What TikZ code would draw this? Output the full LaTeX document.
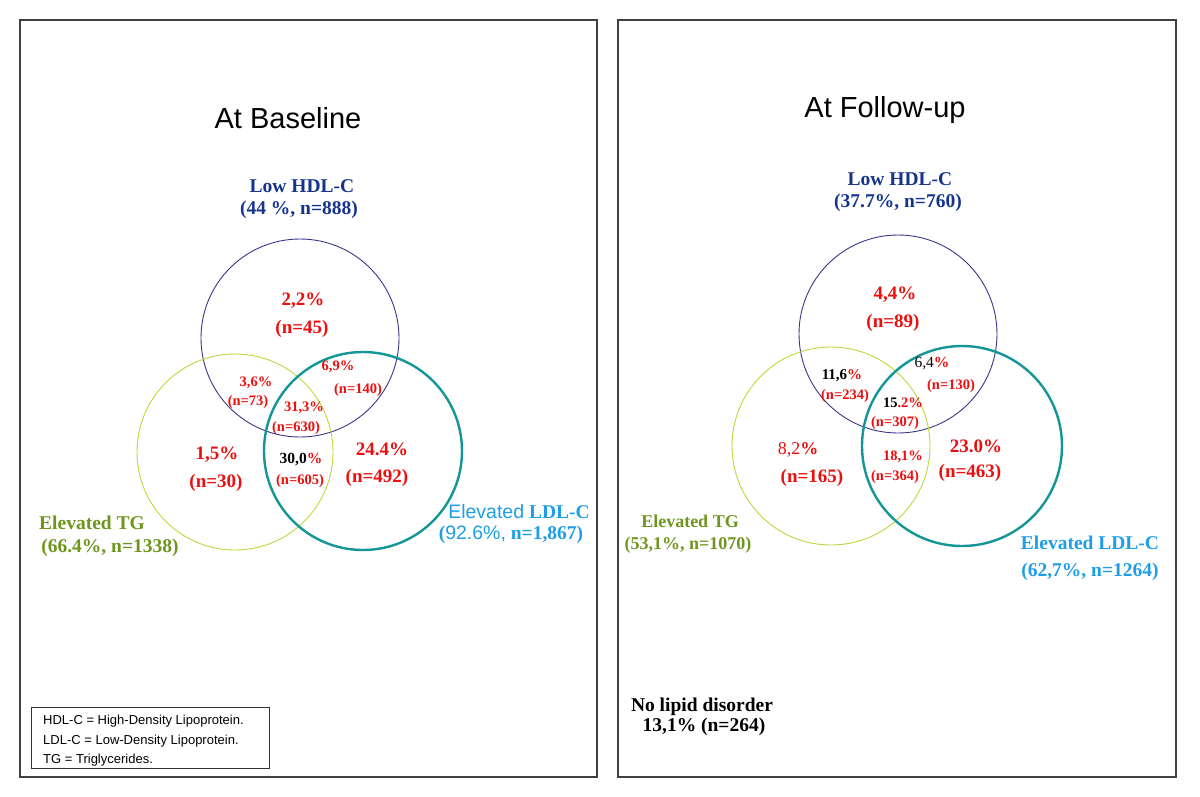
\documentclass[tikz,border=0pt]{standalone}
\usepackage{fontspec}
\setmainfont{Liberation Serif}
\setsansfont{Liberation Sans}
\definecolor{hdlblue}{RGB}{22,52,140}
\definecolor{hdlline}{RGB}{55,55,140}
\definecolor{tggreen}{RGB}{110,150,30}
\definecolor{tgline}{RGB}{190,215,60}
\definecolor{ldlblue}{RGB}{30,158,230}
\definecolor{ldlline}{RGB}{20,150,150}
\definecolor{pctred}{RGB}{235,15,15}

\begin{document}
\begin{tikzpicture}[x=1pt,y=-1pt,
  every node/.style={inner sep=0pt},
  panel/.style={draw=black!75,line width=1.6pt},
  heading/.style={font=\sffamily\fontsize{29}{32}\selectfont},
  setname/.style={font=\bfseries\fontsize{19.5}{22}\selectfont},
  bigpct/.style={font=\bfseries\fontsize{19}{22}\selectfont,text=pctred},
  smallpct/.style={font=\bfseries\fontsize{14.5}{16}\selectfont,text=pctred},
  legendtext/.style={font=\sffamily\fontsize{13}{15}\selectfont,anchor=west}]
\useasboundingbox (0,0) rectangle (1200,796);

% the two panels
\draw[panel] (20,20) rectangle (597,777);
\draw[panel] (618,20) rectangle (1176,777);

% --- at baseline ---
\node[heading] (basetitle) at (288,118) {At Baseline};
\draw[hdlline,line width=0.9pt] (300,338) circle[radius=99pt];
\draw[tgline,line width=0.9pt] (235,452) circle[radius=98pt];
\draw[ldlline,line width=2.4pt] (363,451) circle[radius=99pt];

\node[setname,text=hdlblue] (bhdl) at (302,186) {Low HDL-C};
\node[setname,text=hdlblue] (bhdln) at (299,210) {(44 \%, n=888)};
\node[setname,text=tggreen] (btg) at (92,523) {Elevated TG};
\node[setname,text=tggreen] (btgn) at (110,548) {(66.4\%, n=1338)};
\node[setname,text=ldlblue] (bldl) at (519,512) {{\sffamily\mdseries Elevated} LDL-C};
\node[setname,text=ldlblue] (bldln) at (511,535) {({\sffamily\mdseries 92.6\%,} n=1,867)};

\node[bigpct] (b1) at (303,301) {2,2\%};
\node[bigpct] (b1n) at (302,329) {(n=45)};
\node[smallpct] (b2) at (256,383) {3,6\%};
\node[smallpct] (b2n) at (248,402) {(n=73)};
\node[smallpct] (b3) at (338,367) {6,9\%};
\node[smallpct] (b3n) at (358,390) {(n=140)};
\node[smallpct] (b4) at (304,408) {31,3\%};
\node[smallpct] (b4n) at (296,428) {(n=630)};
\node[bigpct] (b5) at (217,455) {1,5\%};
\node[bigpct] (b5n) at (216,483) {(n=30)};
\node[smallpct,font=\bfseries\fontsize{15.5}{17}\selectfont] (b6) at (301,460) {\textcolor{black}{30,0}\%};
\node[smallpct] (b6n) at (300,481) {(n=605)};
\node[bigpct] (b7) at (382,449) {24.4\%};
\node[bigpct] (b7n) at (377,478) {(n=492)};

% legend
\draw[black!80,line width=1pt] (31,707) rectangle (269,768);
\node[legendtext] (leg1) at (43,721) {HDL-C = High-Density Lipoprotein.};
\node[legendtext] (leg2) at (43,741) {LDL-C = Low-Density Lipoprotein.};
\node[legendtext] (leg3) at (43,760) {TG = Triglycerides.};

% --- at follow-up ---
\node[heading] (fuptitle) at (885,110) {At Follow-up};
\draw[hdlline,line width=0.9pt] (898,334) circle[radius=99pt];
\draw[tgline,line width=0.9pt] (831,446) circle[radius=99pt];
\draw[ldlline,line width=2.4pt] (962,446) circle[radius=100pt];

\node[setname,text=hdlblue] (fhdl) at (900,179) {Low HDL-C};
\node[setname,text=hdlblue] (fhdln) at (898,203) {(37.7\%, n=760)};
\node[setname,text=tggreen,font=\bfseries\fontsize{18}{20}\selectfont] (ftg) at (690,521) {Elevated TG};
\node[setname,text=tggreen,font=\bfseries\fontsize{18}{20}\selectfont] (ftgn) at (688,545) {(53,1\%, n=1070)};
\node[setname,text=ldlblue] (fldl) at (1090,543) {Elevated LDL-C};
\node[setname,text=ldlblue] (fldln) at (1090,572) {(62,7\%, n=1264)};

\node[bigpct] (f1) at (895,295) {4,4\%};
\node[bigpct] (f1n) at (893,323) {(n=89)};
\node[smallpct,font=\bfseries\fontsize{15}{17}\selectfont] (f2) at (842,376) {\textcolor{black}{11,6}\%};
\node[smallpct] (f2n) at (845,396) {(n=234)};
\node[smallpct,font=\fontsize{15.5}{17}\selectfont] (f3) at (932,364) {\textcolor{black}{6,4}\textbf{\%}};
\node[smallpct] (f3n) at (951,386) {(n=130)};
\node[smallpct] (f4) at (903,403) {\textcolor{black}{15}.2\%};
\node[smallpct] (f4n) at (895,423) {(n=307)};
\node[bigpct,font=\fontsize{18}{20}\selectfont] (f5) at (798,450) {8,2\textbf{\%}};
\node[bigpct] (f5n) at (812,478) {(n=165)};
\node[smallpct] (f6) at (903,457) {18,1\%};
\node[smallpct] (f6n) at (895,477) {(n=364)};
\node[bigpct] (f7) at (976,446) {23.0\%};
\node[bigpct] (f7n) at (970,473) {(n=463)};

\node[setname,font=\bfseries\fontsize{19.5}{21}\selectfont] (nolipid) at (702,707) {No lipid disorder};
\node[setname,font=\bfseries\fontsize{19.5}{21}\selectfont] (nolipidn) at (704,727) {13,1\% (n=264)};
\end{tikzpicture}
\end{document}
